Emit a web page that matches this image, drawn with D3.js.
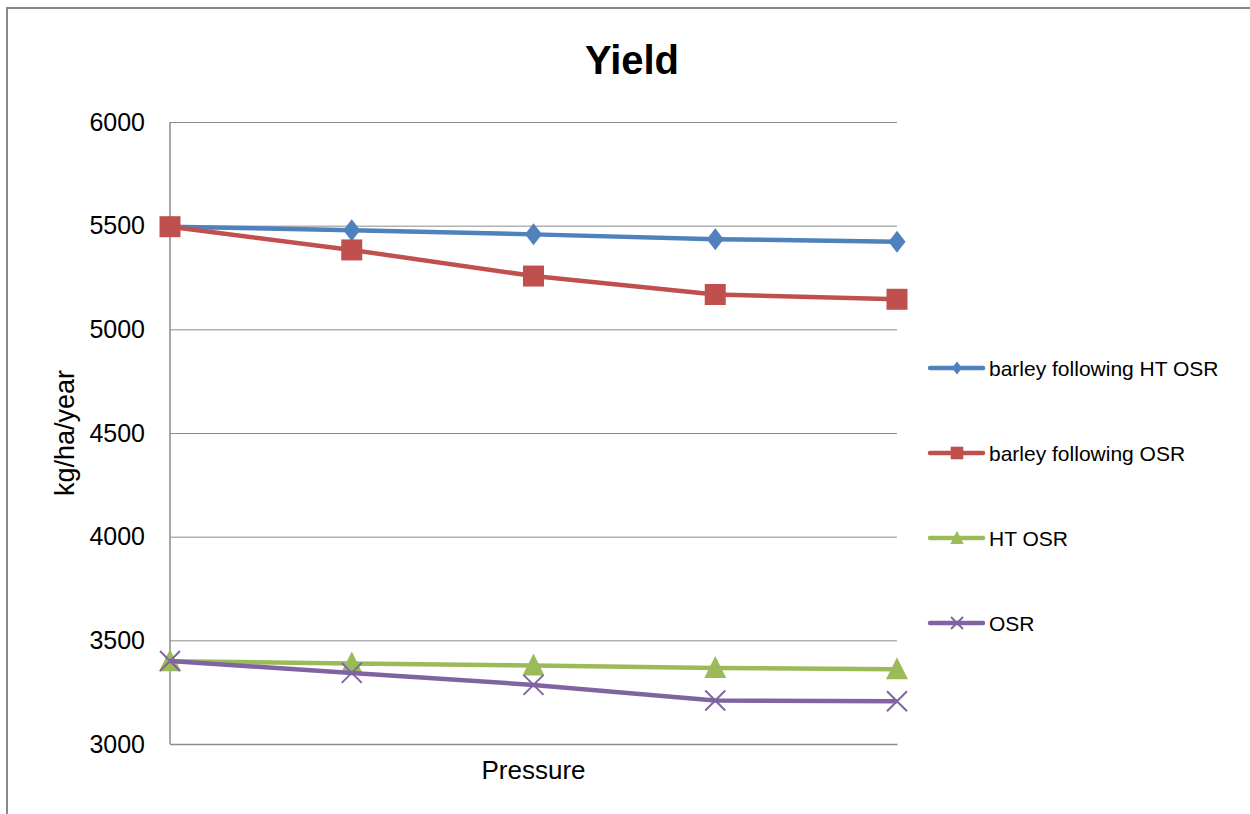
<!DOCTYPE html>
<html>
<head>
<meta charset="utf-8">
<script src="https://cdn.jsdelivr.net/npm/d3@7"></script>
<style>
  html, body { margin: 0; padding: 0; background: #ffffff; }
  svg { display: block; font-family: "Liberation Sans", Arial, sans-serif; }
</style>
</head>
<body>
<div id="chart"></div>
<script>
// Yield per pressure level.
const pressureLevels = ["1", "2", "3", "4", "5"];
const seriesNames = ["barley following HT OSR", "barley following OSR", "HT OSR", "OSR"];
const barleyHtOsr = [5495, 5478, 5458, 5435, 5422];
const barleyOsr = [5495, 5383, 5257, 5168, 5145];
const htOsr = [3399, 3388, 3379, 3367, 3360];
const osr = [3400, 3343, 3285, 3210, 3206];
const yTicks = [3000, 3500, 4000, 4500, 5000, 5500, 6000];

const WIDTH = 1250;
const HEIGHT = 814;
const plot = { left: 170, right: 897, top: 122, bottom: 744 };

const colors = ["#4f81bd", "#c0504d", "#9bbb59", "#8064a2"];
const markerKinds = ["diamond", "square", "triangle", "cross"];

const series = seriesNames.map((name, i) => ({
    name,
    values: [barleyHtOsr, barleyOsr, htOsr, osr][i],
    color: colors[i],
    marker: markerKinds[i]
}));

const svg = d3.select("#chart")
    .append("svg")
    .attr("width", WIDTH)
    .attr("height", HEIGHT);

// Chart frame, runs off the right and bottom edge like the screenshot.
svg.append("rect")
    .attr("x", 7)
    .attr("y", 8)
    .attr("width", WIDTH + 20)
    .attr("height", HEIGHT + 20)
    .attr("fill", "#ffffff")
    .attr("stroke", "#888888")
    .attr("stroke-width", 2);

const x = d3.scalePoint()
    .domain(pressureLevels)
    .range([plot.left, plot.right]);

const y = d3.scaleLinear()
    .domain([3000, 6000])
    .range([plot.bottom, plot.top]);

// Horizontal gridlines via the y axis.
svg.append("g")
    .attr("transform", `translate(${plot.left},0)`)
    .call(d3.axisLeft(y).tickValues(yTicks).tickSize(-(plot.right - plot.left)).tickFormat(d3.format("d")).tickPadding(25))
    .call(g => g.select(".domain").remove())
    .call(g => g.selectAll(".tick line").attr("stroke", "#8c8c8c").attr("stroke-width", 1))
    .call(g => g.selectAll(".tick text")
        .attr("fill", "#000")
        .style("font-size", "25px")
        .attr("font-family", "Liberation Sans, Arial, sans-serif"));

// Axis lines (left and bottom).
svg.append("line")
    .attr("x1", plot.left).attr("x2", plot.left)
    .attr("y1", plot.top).attr("y2", plot.bottom)
    .attr("stroke", "#8c8c8c").attr("stroke-width", 1.5);

svg.append("g")
    .attr("transform", `translate(0,${plot.bottom})`)
    .call(d3.axisBottom(x).tickSize(0).tickFormat(""))
    .call(g => g.select(".domain").attr("stroke", "#8c8c8c").attr("stroke-width", 1.5));

// Title and axis titles.
svg.append("text")
    .attr("x", 632)
    .attr("y", 74)
    .attr("text-anchor", "middle")
    .style("font-size", "40px")
    .style("font-weight", "700")
    .text("Yield");

svg.append("text")
    .attr("x", (plot.left + plot.right) / 2)
    .attr("y", 779)
    .attr("text-anchor", "middle")
    .style("font-size", "26px")
    .text("Pressure");

svg.append("text")
    .attr("transform", `translate(74,${(plot.top + plot.bottom) / 2}) rotate(-90)`)
    .attr("text-anchor", "middle")
    .style("font-size", "27px")
    .text("kg/ha/year");

// Marker shapes; s scales them for legend use.
const drawMarker = (g, kind, color, s) => {
    if (kind === "diamond") {
        g.append("path")
            .attr("d", `M0,${-11 * s}L${8.5 * s},0L0,${11 * s}L${-8.5 * s},0Z`)
            .attr("fill", color);
    } else if (kind === "square") {
        g.append("rect")
            .attr("x", -10.5 * s).attr("y", -10.5 * s)
            .attr("width", 21 * s).attr("height", 21 * s)
            .attr("fill", color);
    } else if (kind === "triangle") {
        g.append("path")
            .attr("d", `M0,${-12 * s}L${11 * s},${10 * s}L${-11 * s},${10 * s}Z`)
            .attr("fill", color);
    } else {
        g.append("path")
            .attr("d", `M${-10 * s},${-10 * s}L${10 * s},${10 * s}M${10 * s},${-10 * s}L${-10 * s},${10 * s}`)
            .attr("stroke", color)
            .attr("stroke-width", 2)
            .attr("fill", "none");
    }
};

const line = d3.line()
    .x((d, i) => x(pressureLevels[i]))
    .y(d => y(d));

const seriesG = svg.selectAll(".series")
    .data(series)
    .join("g")
    .attr("class", "series");

seriesG.append("path")
    .attr("d", d => line(d.values))
    .attr("fill", "none")
    .attr("stroke", d => d.color)
    .attr("stroke-width", 4.5)
    .attr("stroke-linejoin", "round");

seriesG.each(function (d) {
    const g = d3.select(this);
    d.values.forEach((v, i) => {
        const m = g.append("g")
            .attr("transform", `translate(${x(pressureLevels[i])},${y(v)})`);
        drawMarker(m, d.marker, d.color, 1);
    });
});

// Legend on the right.
const legend = svg.append("g")
    .attr("transform", "translate(930,368)");

const legendItems = legend.selectAll("g")
    .data(series)
    .join("g")
    .attr("transform", (d, i) => `translate(0,${i * 85})`);

legendItems.append("line")
    .attr("x1", 0).attr("x2", 53)
    .attr("stroke", d => d.color)
    .attr("stroke-width", 4.5)
    .attr("stroke-linecap", "round");

legendItems.each(function (d) {
    const m = d3.select(this).append("g").attr("transform", "translate(27,0)");
    drawMarker(m, d.marker, d.color, 0.6);
});

legendItems.append("text")
    .attr("x", 59)
    .attr("y", 8)
    .style("font-size", "21px")
    .text(d => d.name);
</script>
</body>
</html>
